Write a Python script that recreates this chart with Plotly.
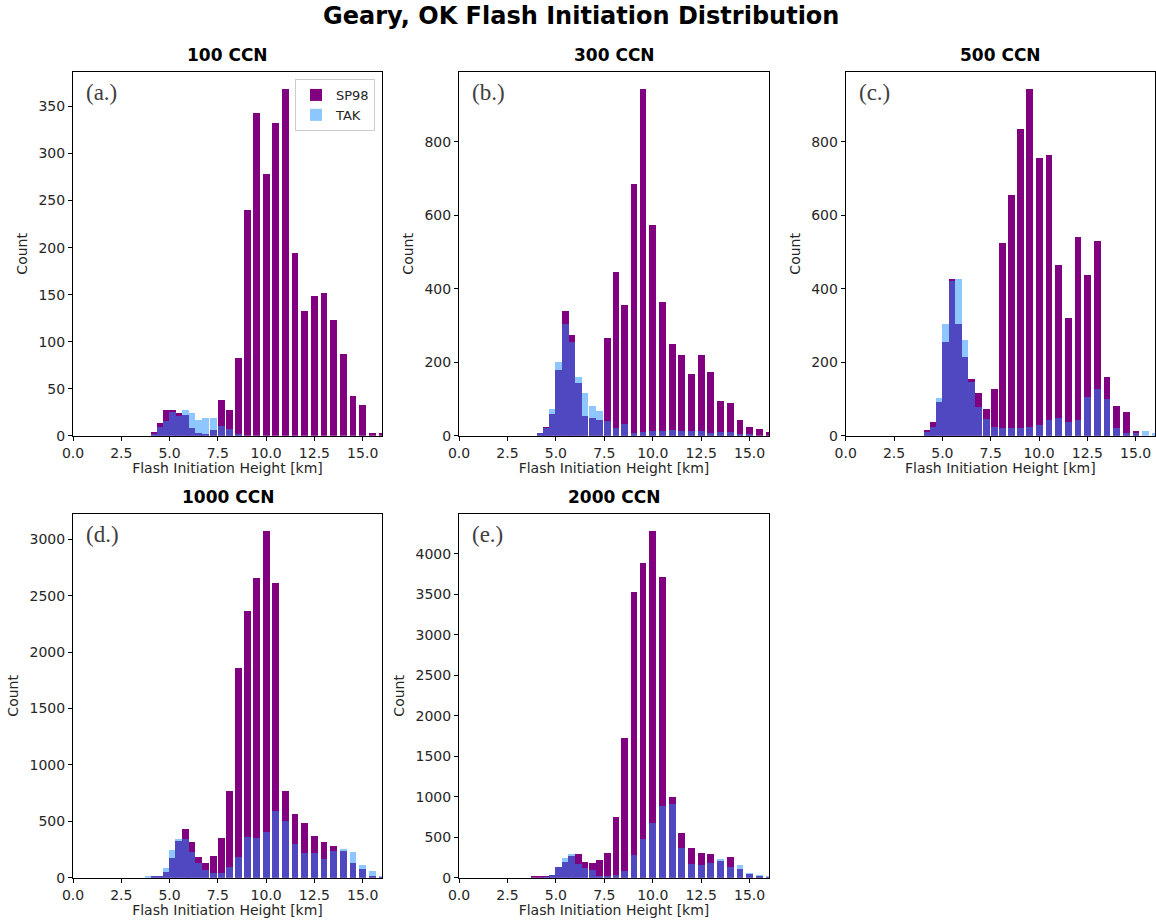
import plotly.graph_objects as go

# Model level heights (km) used as bar positions
levels = [3.9, 4.2, 4.5, 4.82, 5.15, 5.48, 5.81, 6.15, 6.5, 6.87, 7.26, 7.67, 8.1, 8.56,
          9.03, 9.5, 10.0, 10.5, 11.0, 11.5, 12.0, 12.5, 13.0, 13.5, 14.0, 14.5, 15.0, 15.5, 16.0]

panel_titles = ["100 CCN", "300 CCN", "500 CCN", "1000 CCN", "2000 CCN"]
panel_tags = ["(a.)", "(b.)", "(c.)", "(d.)", "(e.)"]

# Flash counts per level, SP98 scheme
sp98_100 = [0, 4, 13, 27, 27, 24, 22, 8, 3, 2, 6, 38, 27, 83, 240, 343, 278, 333, 369, 194,
            133, 149, 152, 123, 87, 42, 33, 3, 3]
sp98_300 = [0, 8, 23, 58, 179, 338, 275, 143, 54, 47, 43, 265, 445, 356, 686, 944, 572, 364,
            249, 219, 168, 219, 172, 95, 88, 43, 25, 17, 9]
sp98_500 = [0, 15, 38, 91, 256, 425, 305, 213, 154, 117, 72, 127, 524, 656, 835, 944, 756, 764,
            464, 320, 541, 438, 529, 161, 82, 64, 13, 0, 0]
sp98_1000 = [0, 12, 15, 47, 171, 327, 434, 316, 180, 133, 195, 348, 770, 1861, 2369, 2655, 3077,
             2611, 770, 569, 481, 372, 313, 280, 239, 133, 74, 15, 5]
sp98_2000 = [12, 12, 12, 30, 136, 198, 268, 292, 198, 185, 218, 300, 754, 1722, 3534, 3893, 4288,
             3720, 1001, 548, 363, 300, 288, 206, 251, 103, 50, 25, 5]

# Flash counts per level, TAK scheme
tak_100 = [0, 2, 9, 16, 25, 21, 27, 24, 17, 19, 19, 10, 7, 2, 0, 0, 0, 0, 0, 0,
           0, 0, 0, 0, 0, 0, 0, 0, 0]
tak_300 = [0, 6, 20, 72, 200, 305, 256, 161, 115, 82, 67, 39, 20, 31, 8, 9, 13, 13, 15, 13,
           13, 13, 6, 9, 9, 5, 2, 0, 0]
tak_500 = [0, 11, 25, 102, 305, 420, 426, 261, 147, 79, 45, 25, 20, 20, 20, 25, 29, 43, 49, 38,
           43, 105, 126, 101, 20, 6, 6, 13, 6]
tak_1000 = [9, 12, 10, 88, 245, 339, 339, 230, 133, 68, 38, 38, 97, 180, 363, 348, 407, 590,
            504, 298, 221, 221, 162, 239, 251, 230, 112, 62, 15]
tak_2000 = [0, 0, 5, 33, 130, 239, 288, 169, 124, 95, 25, 12, 33, 82, 280, 474, 671, 886, 906,
            363, 169, 157, 185, 230, 136, 157, 54, 33, 20]

sp98_sets = [sp98_100, sp98_300, sp98_500, sp98_1000, sp98_2000]
tak_sets = [tak_100, tak_300, tak_500, tak_1000, tak_2000]
y_dticks = [50, 200, 200, 500, 500]

W, H = 1156, 923
# axes boxes in pixels: left, right, top, bottom
boxes = [(73, 382, 72, 435.7), (459, 769, 72, 435.7), (845.7, 1155, 72, 435.7),
         (73, 382, 514, 877.7), (459, 769, 514, 877.7)]

PURPLE = "rgb(128,0,128)"
BLUE = "rgb(30,144,255)"
TXT = "#262626"
FONT = "DejaVu Sans"

fig = go.Figure()
annotations = []
layout_axes = {}

for i in range(5):
    n = "" if i == 0 else str(i + 1)
    xa, ya = "x" + n, "y" + n
    fig.add_trace(go.Bar(x=levels, y=sp98_sets[i], width=0.35, name="SP98",
                         marker=dict(color=PURPLE, line=dict(width=0)),
                         xaxis=xa, yaxis=ya, showlegend=(i == 0)))
    fig.add_trace(go.Bar(x=levels, y=tak_sets[i], width=0.35, name="TAK",
                         marker=dict(color=BLUE, line=dict(width=0)), opacity=0.5,
                         xaxis=xa, yaxis=ya, showlegend=(i == 0)))

    l, r, t, b = boxes[i]
    ymax = max(max(sp98_sets[i]), max(tak_sets[i])) * 1.048
    axis_common = dict(showline=True, linecolor="black", linewidth=1, mirror=True,
                       ticks="outside", ticklen=4, tickcolor="black", showgrid=False,
                       zeroline=False, automargin=False,
                       tickfont=dict(family=FONT, size=14, color=TXT))
    layout_axes["xaxis" + n] = dict(
        axis_common, domain=[l / W, r / W], anchor=ya, range=[0, 16],
        tickmode="array", tickvals=[0, 2.5, 5, 7.5, 10, 12.5, 15],
        ticktext=["0.0", "2.5", "5.0", "7.5", "10.0", "12.5", "15.0"],
        title=dict(text="Flash Initiation Height [km]", standoff=2,
                   font=dict(family=FONT, size=14, color=TXT)))
    layout_axes["yaxis" + n] = dict(
        axis_common, domain=[1 - b / H, 1 - t / H], anchor=xa, range=[0, ymax],
        dtick=y_dticks[i], tick0=0,
        title=dict(text="Count", standoff=7, font=dict(family=FONT, size=14, color=TXT)))

    # subplot title
    annotations.append(dict(text="<b>" + panel_titles[i] + "</b>", xref="paper", yref="paper",
                            x=(l + r) / 2 / W, y=1 - (t - 5) / H, xanchor="center",
                            yanchor="bottom", showarrow=False,
                            font=dict(family=FONT, size=17, color="black")))
    # panel tag
    annotations.append(dict(text=panel_tags[i], xref=xa + " domain", yref=ya + " domain",
                            x=0.035, y=0.945, xanchor="left", yanchor="middle",
                            showarrow=False,
                            font=dict(family="Liberation Serif", size=23, color="#404040")))

annotations.append(dict(text="<b>Geary, OK Flash Initiation Distribution</b>", xref="paper",
                        yref="paper", x=581 / W, y=1 - 16 / H, xanchor="center",
                        yanchor="middle", showarrow=False,
                        font=dict(family=FONT, size=24, color="black")))

fig.update_layout(
    width=W, height=H, margin=dict(l=0, r=0, t=0, b=0),
    paper_bgcolor="white", plot_bgcolor="white",
    barmode="overlay", bargap=0,
    annotations=annotations,
    legend=dict(x=375 / W, y=1 - 79 / H, xanchor="right", yanchor="top",
                bgcolor="white", bordercolor="#cccccc", borderwidth=1,
                font=dict(family=FONT, size=13, color=TXT), itemwidth=30,
                tracegroupgap=0),
    **layout_axes,
)

fig.write_html("out.html")
